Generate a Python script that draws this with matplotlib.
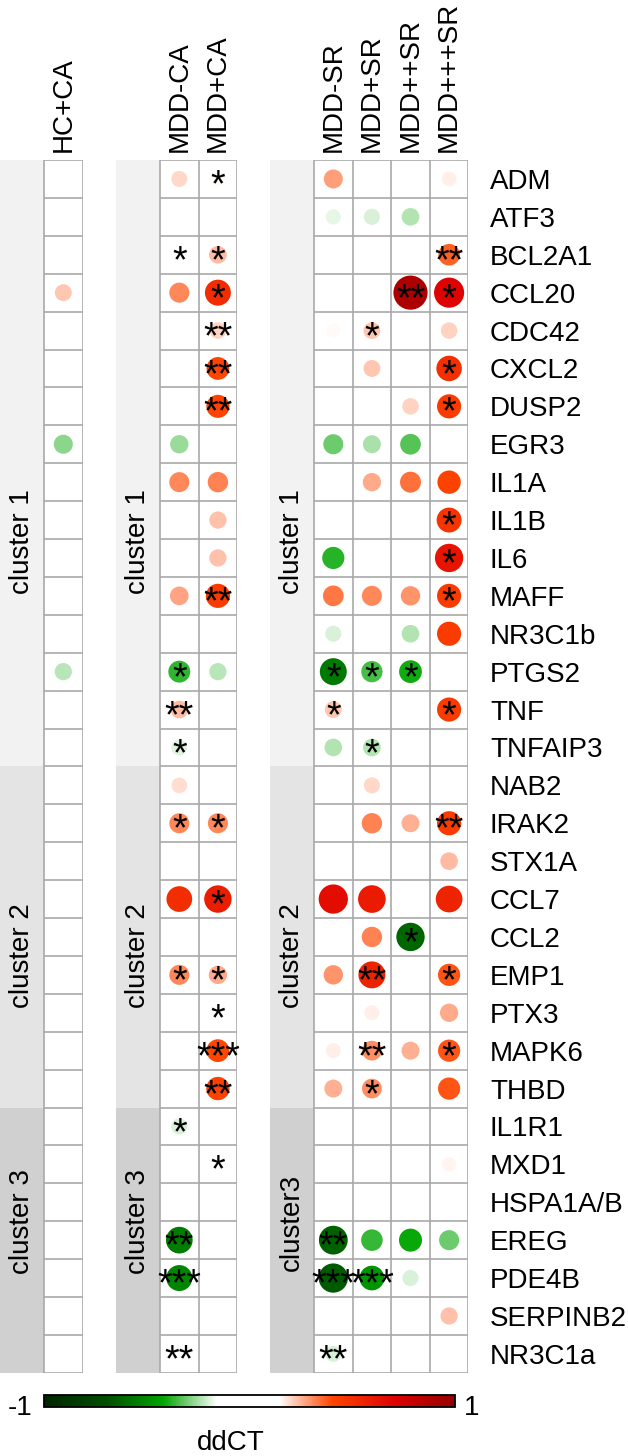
import numpy as np
import matplotlib
matplotlib.use("Agg")
import matplotlib.pyplot as plt
from matplotlib.colors import LinearSegmentedColormap, Normalize
from matplotlib.patches import Rectangle
import matplotlib.colorbar as mcolorbar

plt.rcParams['font.family'] = ['Liberation Sans', 'DejaVu Sans']

nan = np.nan

genes = ["ADM", "ATF3", "BCL2A1", "CCL20", "CDC42", "CXCL2", "DUSP2", "EGR3",
         "IL1A", "IL1B", "IL6", "MAFF", "NR3C1b", "PTGS2", "TNF", "TNFAIP3",
         "NAB2", "IRAK2", "STX1A", "CCL7", "CCL2", "EMP1", "PTX3", "MAPK6", "THBD",
         "IL1R1", "MXD1", "HSPA1A/B", "EREG", "PDE4B", "SERPINB2", "NR3C1a"]

cluster_sizes = [16, 9, 7]
cluster_colors = ["#f2f2f2", "#e4e4e4", "#d0d0d0"]
panel_cluster_names = [["cluster 1", "cluster 2", "cluster 3"],
                       ["cluster 1", "cluster 2", "cluster 3"],
                       ["cluster 1", "cluster 2", "cluster3"]]

columns = ["HC+CA", "MDD-CA", "MDD+CA", "MDD-SR", "MDD+SR", "MDD++SR", "MDD+++SR"]
panels = [["HC+CA"], ["MDD-CA", "MDD+CA"], ["MDD-SR", "MDD+SR", "MDD++SR", "MDD+++SR"]]

# ddCT values (NaN = no circle), gene order as in `genes`
hc_ca = [nan, nan, nan, 0.22, nan, nan, nan, -0.28,
         nan, nan, nan, nan, nan, -0.23, nan, nan,
         nan, nan, nan, nan, nan, nan, nan, nan, nan,
         nan, nan, nan, nan, nan, nan, nan]
mdd_m_ca = [0.20, -0.15, 0.13, 0.31, nan, nan, nan, -0.26,
            0.31, nan, nan, 0.27, nan, -0.37, 0.24, -0.19,
            0.19, 0.31, nan, 0.51, nan, 0.31, nan, 0.08, nan,
            -0.20, nan, nan, -0.55, -0.52, nan, -0.12]
mdd_p_ca = [0.15, nan, 0.24, 0.52, 0.21, 0.40, 0.41, nan,
            0.32, 0.23, 0.23, 0.45, nan, -0.23, 0.10, nan,
            0.14, 0.31, nan, 0.58, nan, 0.26, 0.12, 0.40, 0.42,
            nan, 0.0, nan, nan, -0.13, nan, nan]
mdd_m_sr = [0.28, -0.18, nan, nan, 0.15, nan, nan, -0.31,
            nan, nan, -0.38, 0.33, -0.20, -0.56, 0.22, -0.24,
            nan, nan, nan, 0.66, nan, 0.29, nan, 0.17, 0.25,
            nan, nan, nan, -0.64, -0.66, nan, -0.20]
mdd_p_sr = [0.11, -0.20, nan, nan, 0.22, 0.22, nan, -0.25,
            0.26, nan, nan, 0.31, nan, -0.35, 0.08, -0.24,
            0.20, 0.32, nan, 0.59, 0.32, 0.56, 0.17, 0.30, 0.30,
            nan, nan, nan, -0.36, -0.47, nan, nan]
mdd_pp_sr = [nan, -0.24, nan, 0.90, 0.12, nan, 0.21, -0.33,
             0.34, -0.10, nan, 0.29, -0.24, -0.40, nan, nan,
             nan, 0.25, nan, 0.14, -0.62, nan, nan, 0.25, 0.13,
             nan, nan, nan, -0.41, -0.20, nan, nan]
mdd_ppp_sr = [0.17, nan, 0.36, 0.70, 0.21, 0.50, 0.45, nan,
              0.42, 0.48, 0.62, 0.45, 0.45, -0.10, 0.45, nan,
              0.08, 0.45, 0.24, 0.55, nan, 0.38, 0.26, 0.38, 0.38,
              nan, 0.16, nan, -0.31, nan, 0.23, nan]

# significance stars
stars_hc_ca = [""] * 32
stars_mdd_m_ca = ["", "", "*", "", "", "", "", "",
                  "", "", "", "", "", "*", "**", "*",
                  "", "*", "", "", "", "*", "", "", "",
                  "*", "", "", "**", "***", "", "**"]
stars_mdd_p_ca = ["*", "", "*", "*", "**", "**", "**", "",
                  "", "", "", "**", "", "", "", "",
                  "", "*", "", "*", "", "*", "*", "***", "**",
                  "", "*", "", "", "", "", ""]
stars_mdd_m_sr = ["", "", "", "", "", "", "", "",
                  "", "", "", "", "", "*", "*", "",
                  "", "", "", "", "", "", "", "", "",
                  "", "", "", "**", "***", "", "**"]
stars_mdd_p_sr = ["", "", "", "", "*", "", "", "",
                  "", "", "", "", "", "*", "", "*",
                  "", "", "", "", "", "**", "", "**", "*",
                  "", "", "", "", "***", "", ""]
stars_mdd_pp_sr = ["", "", "", "**", "", "", "", "",
                   "", "", "", "", "", "*", "", "",
                   "", "", "", "", "*", "", "", "", "",
                   "", "", "", "", "", "", ""]
stars_mdd_ppp_sr = ["", "", "**", "*", "", "*", "*", "",
                    "", "*", "*", "*", "", "", "*", "",
                    "", "**", "", "", "", "*", "", "*", "",
                    "", "", "", "", "", "", ""]

values = {"HC+CA": hc_ca, "MDD-CA": mdd_m_ca, "MDD+CA": mdd_p_ca,
          "MDD-SR": mdd_m_sr, "MDD+SR": mdd_p_sr, "MDD++SR": mdd_pp_sr,
          "MDD+++SR": mdd_ppp_sr}
stars = {"HC+CA": stars_hc_ca, "MDD-CA": stars_mdd_m_ca, "MDD+CA": stars_mdd_p_ca,
         "MDD-SR": stars_mdd_m_sr, "MDD+SR": stars_mdd_p_sr, "MDD++SR": stars_mdd_pp_sr,
         "MDD+++SR": stars_mdd_ppp_sr}

# ---------- styling / layout ----------
W, H, DPI = 628, 1456, 100
cmap = LinearSegmentedColormap.from_list("ddct", [
    (0.000, (0/255, 38/255, 0/255)),
    (0.150, (0/255, 78/255, 0/255)),
    (0.290, (0/255, 165/255, 0/255)),
    (0.420, (1, 1, 1)),
    (0.573, (1, 1, 1)),
    (0.700, (1, 70/255, 0)),
    (0.858, (220/255, 0, 0)),
    (1.000, (150/255, 0, 0)),
])
norm = Normalize(-1, 1)

fig = plt.figure(figsize=(W / DPI, H / DPI), dpi=DPI)
fig.patch.set_facecolor("white")

top_px, row_px, col_px, bar_px = 160.0, 37.9, 38.6, 44.0
nrows = len(genes)
bottom_px = top_px + nrows * row_px
panel_left_px = [0.0, 116.0, 270.0]
label_rows = [10.08, 20.98, 28.02]   # vertical centre of cluster labels (row units)
bw = bar_px / col_px
FS = 20
STAR_FS = 27
size_scale = 672.0

cl_starts = np.concatenate([[0], np.cumsum(cluster_sizes)[:-1]])

for pi, cols in enumerate(panels):
    n = len(cols)
    left = panel_left_px[pi]
    width = bar_px + n * col_px
    ax = fig.add_axes([left / W, 1 - bottom_px / H, width / W, (bottom_px - top_px) / H])
    ax.set_xlim(-bw, n)
    ax.set_ylim(nrows, 0)
    for s in ax.spines.values():
        s.set_visible(False)
    ax.set_facecolor("none")
    # cluster bars
    for ci, (st, sz) in enumerate(zip(cl_starts, cluster_sizes)):
        ax.add_patch(Rectangle((-bw, st), bw, sz, facecolor=cluster_colors[ci],
                               edgecolor="none", zorder=0))
        ax.text(-bw / 2, label_rows[ci], panel_cluster_names[pi][ci], rotation=90,
                ha="center", va="center", fontsize=FS, zorder=3)
    ax.add_patch(Rectangle((0, 0), n, nrows, facecolor="white", edgecolor="none", zorder=0))
    # grid
    ax.vlines(np.arange(n + 1), 0, nrows, color="#a9a9a9", lw=1.2, zorder=1)
    ax.hlines(np.arange(nrows + 1), 0, n, color="#a9a9a9", lw=1.2, zorder=1)
    # circles
    for ci, col in enumerate(cols):
        v = np.array(values[col], dtype=float)
        y = np.arange(nrows) + 0.5
        m = ~np.isnan(v)
        ax.scatter(np.full(m.sum(), ci + 0.5), y[m], s=size_scale * np.abs(v[m]),
                   c=v[m], cmap=cmap, norm=norm, linewidths=0, zorder=2)
        for ri, stxt in enumerate(stars[col]):
            if stxt:
                ax.annotate(stxt, (ci + 0.5, ri + 0.5), xytext=(0, -0.465 * STAR_FS),
                            textcoords="offset points", ha="center", va="baseline",
                            fontsize=STAR_FS, zorder=4, annotation_clip=False)
    # column headers
    ax.set_xticks(np.arange(n) + 0.5)
    ax.set_xticklabels(cols, rotation=90, fontsize=FS)
    ax.xaxis.tick_top()
    ax.tick_params(axis="x", length=0, pad=5.8)
    if pi == 2:
        ax.yaxis.tick_right()
        ax.set_yticks(np.arange(nrows) + 0.5)
        ax.set_yticklabels(genes, fontsize=FS)
        ax.tick_params(axis="y", length=0, pad=15.5)
    else:
        ax.set_yticks([])

# colorbar
cb_left, cb_right, cb_top, cb_bot = 44.0, 455.0, 1395.0, 1407.0
cax = fig.add_axes([cb_left / W, 1 - cb_bot / H, (cb_right - cb_left) / W, (cb_bot - cb_top) / H])
cb = mcolorbar.ColorbarBase(cax, cmap=cmap, norm=norm, orientation="horizontal")
cb.set_ticks([])
cb.outline.set_linewidth(1.3)
cb.outline.set_edgecolor("black")
cax.text(-0.029, -0.67, "-1", transform=cax.transAxes, ha="right", va="baseline", fontsize=FS)
cax.text(1.022, -0.67, "1", transform=cax.transAxes, ha="left", va="baseline", fontsize=FS)
fig.text(231 / W, 1 - 1450 / H, "ddCT", ha="center", va="baseline", fontsize=FS)

fig.savefig("out.png", dpi=DPI, facecolor="white")
